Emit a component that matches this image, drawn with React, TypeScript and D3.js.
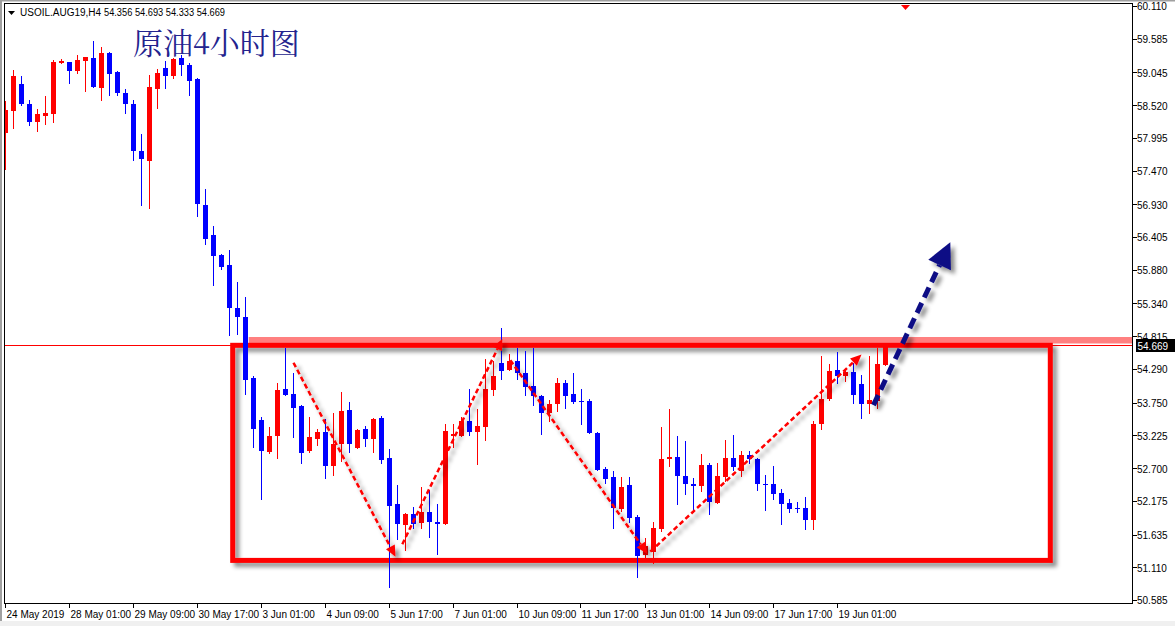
import { useEffect, useRef } from 'react';
import * as d3 from 'd3';

const symbolName = 'USOIL.AUG19,H4';
const chartTitle = '原油4小时图';

// H4 bars, one axis label every 8 bars
const timeLabels = ['24 May 2019', '28 May 01:00', '29 May 09:00', '30 May 17:00', '3 Jun 01:00', '4 Jun 09:00', '5 Jun 17:00',
  '7 Jun 01:00', '10 Jun 09:00', '11 Jun 17:00', '13 Jun 01:00', '14 Jun 09:00', '17 Jun 17:00', '19 Jun 01:00'];
const labelEvery = 8;
const barsVisible = 141;

const priceTicks = [60.110, 59.585, 59.045, 58.520, 57.995, 57.470, 56.930, 56.405, 55.880, 55.340, 54.815,
  54.290, 53.750, 53.225, 52.700, 52.175, 51.635, 51.110, 50.585];

const opens = [58.07, 58.43, 58.86, 58.54, 58.25, 58.35, 58.38, 59.20, 59.21, 59.07,
  59.23, 59.28, 58.80, 59.36, 59.05, 58.72, 58.54, 57.79, 57.63, 58.78,
  59.12, 58.99, 59.28, 59.17, 58.94, 56.92, 56.44, 56.12, 55.96, 55.26,
  55.13, 54.14, 53.47, 52.96, 53.21, 53.97, 53.89, 53.70, 52.98, 53.17,
  53.28, 52.74, 53.08, 53.63, 53.03, 53.32, 53.16, 53.50, 52.87, 52.13,
  51.78, 51.96, 51.82, 52.00, 51.84, 51.81, 53.22, 53.22, 53.46, 53.28,
  53.36, 53.95, 54.38, 54.27, 54.42, 54.22, 54.02, 53.86, 53.59, 53.72,
  54.06, 53.89, 53.78, 53.78, 53.27, 52.69, 52.55, 52.05, 52.43, 51.92,
  51.31, 51.36, 51.73, 52.84, 52.88, 52.57, 52.44, 52.42, 52.75, 52.14,
  52.56, 52.86, 52.66, 52.91, 52.85, 52.45, 52.44, 52.30, 52.14, 52.06,
  52.06, 51.87, 53.41, 53.81, 54.27, 54.18, 54.24, 54.05, 53.73, 53.78,
  54.356];
const highs = [58.59, 59.08, 58.99, 58.60, 58.46, 58.67, 59.24, 59.26, 59.22, 59.32,
  59.30, 59.55, 59.46, 59.37, 59.06, 58.78, 58.60, 58.06, 59.00, 59.10,
  59.23, 59.28, 59.32, 59.20, 58.96, 57.17, 56.58, 56.13, 56.20, 55.68,
  55.44, 54.18, 53.52, 53.36, 54.06, 54.63, 54.22, 53.71, 53.52, 53.33,
  53.49, 53.58, 53.92, 53.76, 53.32, 53.37, 53.50, 53.54, 53.01, 52.43,
  51.98, 52.08, 52.39, 52.35, 52.13, 53.41, 53.41, 53.52, 53.97, 53.65,
  54.45, 54.42, 54.95, 54.53, 54.63, 54.58, 54.63, 53.87, 53.79, 54.14,
  54.11, 54.22, 53.97, 53.81, 53.28, 52.72, 52.66, 52.55, 52.56, 51.95,
  51.58, 51.84, 53.36, 53.65, 53.21, 53.14, 52.54, 52.93, 52.78, 52.78,
  53.15, 53.23, 52.97, 52.97, 52.86, 52.59, 52.73, 52.36, 52.20, 52.16,
  52.24, 53.46, 54.50, 54.37, 54.56, 54.27, 54.39, 54.19, 54.50, 54.63,
  54.693];
const lows = [57.48, 58.14, 58.50, 58.19, 58.09, 58.20, 58.24, 59.18, 58.86, 59.02,
  58.73, 58.79, 58.59, 58.66, 58.66, 58.38, 57.63, 56.91, 56.85, 58.46,
  58.78, 58.94, 58.99, 58.66, 56.73, 56.28, 55.62, 55.88, 54.82, 54.83,
  53.87, 53.03, 52.19, 52.92, 52.85, 53.85, 53.19, 52.77, 52.95, 53.06,
  52.53, 52.58, 52.80, 52.95, 53.00, 53.04, 52.95, 52.76, 50.77, 51.55,
  51.37, 51.73, 51.73, 51.58, 51.31, 51.78, 53.03, 53.20, 53.22, 52.75,
  53.14, 53.86, 54.11, 54.26, 54.11, 53.85, 53.69, 53.23, 53.44, 53.60,
  53.64, 53.72, 53.39, 53.25, 52.65, 52.45, 51.73, 52.00, 51.82, 50.94,
  51.26, 51.16, 51.68, 52.71, 52.11, 52.27, 51.98, 52.32, 51.94, 52.13,
  52.48, 52.66, 52.55, 52.77, 52.34, 52.02, 52.19, 51.79, 51.98, 51.98,
  51.71, 51.70, 53.31, 53.78, 54.05, 54.08, 53.73, 53.48, 53.57, 53.64,
  54.333];
const closes = [58.44, 58.98, 58.54, 58.25, 58.38, 58.39, 59.21, 59.23, 59.06, 59.24,
  59.29, 58.81, 59.36, 59.02, 58.72, 58.54, 57.79, 57.65, 58.81, 59.04,
  58.99, 59.26, 59.17, 58.91, 56.93, 56.38, 56.10, 55.93, 55.26, 55.13,
  54.11, 53.33, 52.98, 53.21, 53.95, 53.87, 53.66, 52.95, 53.20, 53.28,
  52.74, 53.09, 53.62, 53.08, 53.31, 53.16, 53.49, 52.83, 52.10, 51.81,
  51.97, 51.81, 52.00, 51.84, 51.81, 53.30, 53.25, 53.46, 53.28, 53.37,
  53.97, 54.18, 54.25, 54.42, 54.22, 54.00, 53.86, 53.59, 53.73, 54.06,
  53.86, 53.76, 53.76, 53.27, 52.67, 52.53, 52.06, 52.40, 51.90, 51.29,
  51.45, 51.74, 52.85, 52.88, 52.58, 52.45, 52.42, 52.75, 52.16, 52.57,
  52.86, 52.72, 52.91, 52.85, 52.45, 52.43, 52.29, 52.13, 52.05, 52.04,
  51.87, 53.41, 53.81, 54.26, 54.18, 54.24, 53.88, 53.73, 53.79, 54.37,
  54.669];

const bidPrice = 54.669;
const resistanceLine = [30.4, 54.75]; // start bar, price
const rangeBox = [28.4, 54.669, 130.6, 51.22]; // bar0, price0, bar1, price1
const trendArrows = [
  [36.0, 54.39, 48.75, 51.28],
  [49.6, 51.48, 62.1, 54.77],
  [63.1, 54.43, 80.2, 51.33],
  [80.6, 51.36, 107.0, 54.52],
];
const breakoutArrow = [108.5, 53.71, 118.1, 56.32];
const markerBar = 112.5;

const UP = '#ff0000';
const DOWN = '#0000ff';
const FONT = '"Liberation Sans", Arial, sans-serif';

export default function App() {
  const svgRef = useRef<SVGSVGElement>(null);

  useEffect(() => {
    if (!svgRef.current) return;
    const svg = d3.select(svgRef.current);
    svg.selectAll('*').remove();

    const width = 1175;
    const height = 626;
    const left = 4.5, top = 3.5, right = 1132.5, bottom = 603.5;

    const x = d3.scaleLinear().domain([0, barsVisible]).range([5.5, 5.5 + 8 * barsVisible]);
    const y = d3.scaleLinear().domain([50.585, 60.110]).range([600, 6]);

    const defs = svg.append('defs');
    const f = defs.append('filter').attr('id', 'shadow').attr('x', '-20%').attr('y', '-20%').attr('width', '140%').attr('height', '140%');
    f.append('feDropShadow').attr('dx', 4).attr('dy', 4).attr('stdDeviation', 2)
      .attr('flood-color', '#000').attr('flood-opacity', 0.45);
    defs.append('clipPath').attr('id', 'plot')
      .append('rect').attr('x', left + 0.5).attr('y', top + 0.5).attr('width', right - left - 1).attr('height', bottom - top - 1);

    svg.append('rect').attr('width', width).attr('height', height).attr('fill', '#fff');
    // window frame
    svg.append('rect').attr('x', 0).attr('y', 0).attr('width', 2).attr('height', height).attr('fill', '#a0a0a0');
    svg.append('rect').attr('x', 0).attr('y', 0).attr('width', width).attr('height', 1.5).attr('fill', '#a0a0a0');
    svg.append('rect').attr('x', 0).attr('y', 621).attr('width', width).attr('height', 5).attr('fill', '#f0f0f0');

    const plot = svg.append('g').attr('clip-path', 'url(#plot)');

    // bid line
    const yb = Math.round(y(bidPrice)) + 0.5;
    plot.append('line').attr('x1', left).attr('x2', right).attr('y1', yb).attr('y2', yb)
      .attr('stroke', '#ff0000').attr('stroke-width', 1);

    // resistance band
    plot.append('line')
      .attr('x1', x(resistanceLine[0])).attr('x2', right)
      .attr('y1', y(resistanceLine[1])).attr('y2', y(resistanceLine[1]))
      .attr('stroke', '#ff8080').attr('stroke-width', 6.5);

    // range box
    plot.append('rect')
      .attr('x', x(rangeBox[0])).attr('y', y(rangeBox[1]))
      .attr('width', x(rangeBox[2]) - x(rangeBox[0])).attr('height', y(rangeBox[3]) - y(rangeBox[1]))
      .attr('fill', 'none').attr('stroke', '#ff0000').attr('stroke-width', 5)
      .attr('filter', 'url(#shadow)');

    // candles
    const bars = d3.range(opens.length);
    const cg = plot.append('g').attr('shape-rendering', 'crispEdges');
    bars.forEach(i => {
      const o = opens[i], c = closes[i];
      const color = c >= o ? UP : DOWN;
      const yh = Math.round(y(highs[i]));
      const yl = Math.round(y(lows[i]));
      const yt = Math.round(y(Math.max(o, c)));
      const ybm = Math.round(y(Math.min(o, c)));
      cg.append('rect').attr('x', x(i) - 0.5).attr('y', yh).attr('width', 1).attr('height', Math.max(1, yl - yh)).attr('fill', color);
      cg.append('rect').attr('x', x(i) - 2.5).attr('y', yt).attr('width', 5).attr('height', Math.max(1, ybm - yt)).attr('fill', color);
    });

    // annotation arrows
    const drawArrow = (a: number[], color: string, w: number, dash: string, headLen: number, headW: number) => {
      const x0 = x(a[0]), y0 = y(a[1]), x1 = x(a[2]), y1 = y(a[3]);
      const len = Math.hypot(x1 - x0, y1 - y0);
      const ux = (x1 - x0) / len, uy = (y1 - y0) / len;
      const bx = x1 - ux * headLen, by = y1 - uy * headLen;
      const ag = plot.append('g').attr('filter', 'url(#shadow)');
      ag.append('line').attr('x1', x0).attr('y1', y0).attr('x2', bx).attr('y2', by)
        .attr('stroke', color).attr('stroke-width', w).attr('stroke-dasharray', dash);
      ag.append('path')
        .attr('d', `M${x1},${y1}L${bx - uy * headW},${by + ux * headW}L${bx + uy * headW},${by - ux * headW}Z`)
        .attr('fill', color);
    };
    trendArrows.forEach(a => drawArrow(a, '#ff0000', 2.5, '5 3', 11, 5));
    drawArrow(breakoutArrow, '#0b0b85', 5, '11 6', 25, 12.5);

    // frame
    const frame = svg.append('g').attr('shape-rendering', 'crispEdges');
    frame.append('path').attr('d', `M${left},${bottom}V${top}H${right}V${bottom}Z`)
      .attr('fill', 'none').attr('stroke', '#000').attr('stroke-width', 1);

    // price axis
    const yAxis = svg.append('g');
    priceTicks.forEach(p => {
      const ty = Math.round(y(p)) + 0.5;
      yAxis.append('line').attr('x1', right).attr('x2', right + 4).attr('y1', ty).attr('y2', ty)
        .attr('stroke', '#000').attr('shape-rendering', 'crispEdges');
      yAxis.append('text').attr('x', right + 4.5).attr('y', y(p) + 4.4).text(p.toFixed(3))
        .style('font-family', FONT).style('font-size', '10px').style('fill', '#000');
    });
    yAxis.append('rect').attr('x', right + 3.5).attr('y', Math.round(y(bidPrice)) - 6).attr('width', 39).attr('height', 13).attr('fill', '#000');
    yAxis.append('text').attr('x', right + 5).attr('y', y(bidPrice) + 4.4).text(bidPrice.toFixed(3))
      .style('font-family', FONT).style('font-size', '10px').style('fill', '#fff');

    // time axis
    const xAxis = svg.append('g');
    timeLabels.forEach((t, k) => {
      const tx = Math.round(x(k * labelEvery)) - 0.5;
      xAxis.append('line').attr('x1', tx).attr('x2', tx).attr('y1', bottom).attr('y2', bottom + 4)
        .attr('stroke', '#000').attr('shape-rendering', 'crispEdges');
      xAxis.append('text').attr('x', tx + 1).attr('y', 618).text(t)
        .style('font-family', FONT).style('font-size', '10px').style('fill', '#000');
    });

    // top marker
    const mx = x(markerBar);
    svg.append('path').attr('d', `M${mx - 4.5},${top + 1.5}L${mx + 4.5},${top + 1.5}L${mx},${top + 6.5}Z`).attr('fill', '#ff0000');

    // header
    const last = opens.length - 1;
    svg.append('path').attr('d', 'M8,11L15,11L11.5,15Z').attr('fill', '#000');
    svg.append('text').attr('x', 20).attr('y', 16).text(symbolName)
      .style('font-family', FONT).style('font-size', '10px').style('fill', '#000');
    svg.append('text').attr('x', 104).attr('y', 16)
      .attr('textLength', 121).attr('lengthAdjust', 'spacingAndGlyphs')
      .text([opens[last], highs[last], lows[last], closes[last]].map(v => v.toFixed(3)).join(' '))
      .style('font-family', FONT).style('font-size', '10px').style('fill', '#000');

    svg.append('text').attr('x', 133).attr('y', 54).text(chartTitle)
      .style('font-family', '"Noto Serif CJK SC", "Noto Sans CJK SC", serif')
      .style('font-size', '30px').style('fill', '#23238e');
  }, []);

  return (
    <svg ref={svgRef} width={1175} height={626} style={{ position: 'absolute', left: 0, top: 0 }} />
  );
}
